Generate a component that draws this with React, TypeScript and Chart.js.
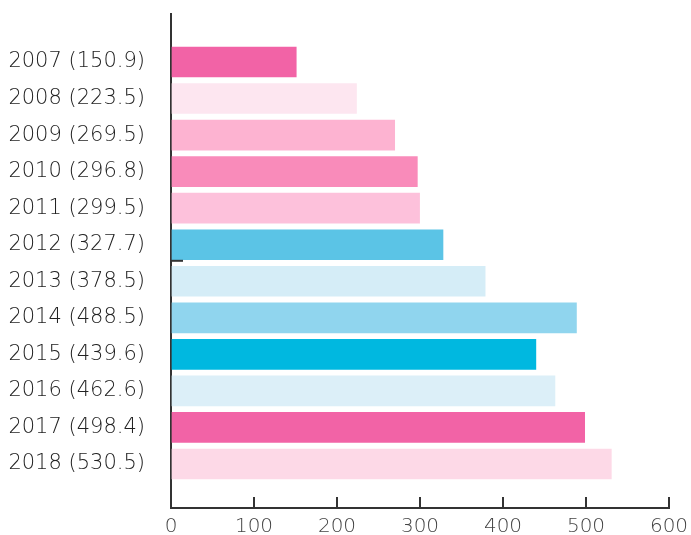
import React, { useEffect, useRef } from "react";
import { Chart, registerables } from "chart.js";

Chart.register(...registerables);

const categories = [
  "2007 (150.9)",
  "2008 (223.5)",
  "2009 (269.5)",
  "2010 (296.8)",
  "2011 (299.5)",
  "2012 (327.7)",
  "2013 (378.5)",
  "2014 (488.5)",
  "2015 (439.6)",
  "2016 (462.6)",
  "2017 (498.4)",
  "2018 (530.5)",
];

const values = [150.9, 223.5, 269.5, 296.8, 299.5, 327.7, 378.5, 488.5, 439.6, 462.6, 498.4, 530.5];

const barColors = [
  "#F263A6",
  "#FDE6F0",
  "#FDB3D1",
  "#F98BBA",
  "#FDC1DB",
  "#5BC4E6",
  "#D5EDF7",
  "#90D5EE",
  "#00B8E0",
  "#DCEFF8",
  "#F263A6",
  "#FDD9E7",
];

const xTicks = [0, 100, 200, 300, 400, 500, 600];

const FONT = "'DejaVu Sans ExtraLight', 'DejaVu Sans Light', 'DejaVu Sans', sans-serif";
const AXIS = "#333333";

const midTickPlugin = {
  id: "midTick",
  afterDraw(chart: any) {
    const y = chart.scales.y;
    const ctx = chart.ctx;
    const py = y.getPixelForValue(5.44);
    ctx.save();
    ctx.strokeStyle = AXIS;
    ctx.lineWidth = 2;
    ctx.beginPath();
    ctx.moveTo(y.right, py);
    ctx.lineTo(y.right + 12, py);
    ctx.stroke();
    ctx.restore();
  },
};

export default function App() {
  const ref = useRef<HTMLCanvasElement | null>(null);

  useEffect(() => {
    if (!ref.current) return;
    const chart = new Chart(ref.current, {
      type: "bar",
      data: {
        datasets: [
          {
            data: values.map((v, i) => ({ x: v, y: i })),
            backgroundColor: barColors,
            borderWidth: 0,
            barThickness: 30,
          },
        ],
      },
      options: {
        animation: false,
        responsive: false,
        indexAxis: "y",
        layout: { padding: { top: 14, right: 22, left: 0, bottom: 0 } },
        plugins: {
          legend: { display: false },
          tooltip: { enabled: false },
        },
        scales: {
          x: {
            type: "linear",
            min: 0,
            max: 600,
            afterBuildTicks: (s: any) => {
              s.ticks = xTicks.map((v) => ({ value: v }));
            },
            afterFit: (s: any) => {
              s.height = 27;
              s.paddingLeft = 0;
              s.paddingRight = 0;
            },
            grid: {
              display: true,
              drawOnChartArea: false,
              drawTicks: true,
              tickLength: -11,
              color: AXIS,
              lineWidth: 2,
            },
            border: { display: true, color: AXIS, width: 2 },
            ticks: {
              padding: 18,
              color: "#444444",
              font: { family: FONT, size: 20, weight: "200" as any },
              maxRotation: 0,
            },
          },
          y: {
            type: "linear",
            reverse: true,
            offset: false,
            min: -1.313,
            max: 12.204,
            afterBuildTicks: (s: any) => {
              s.ticks = categories.map((_, i) => ({ value: i }));
            },
            afterFit: (s: any) => {
              s.width = 171;
              s.paddingTop = 0;
              s.paddingBottom = 0;
            },
            grid: { display: false, offset: false, drawTicks: true, tickLength: 26 },
            border: { display: true, color: AXIS, width: 2 },
            ticks: {
              padding: 0,
              color: "#222222",
              font: { family: FONT, size: 21, weight: "200" as any },
              callback: (v: any) => categories[v as number] ?? "",
            },
          },
        },
      },
      plugins: [midTickPlugin],
    } as any);
    return () => chart.destroy();
  }, []);

  return (
    <div style={{ position: "fixed", left: 0, top: 0, width: 691, height: 535, background: "#fff" }}>
      <canvas ref={ref} width={691} height={535} style={{ width: 691, height: 535 }} />
    </div>
  );
}
